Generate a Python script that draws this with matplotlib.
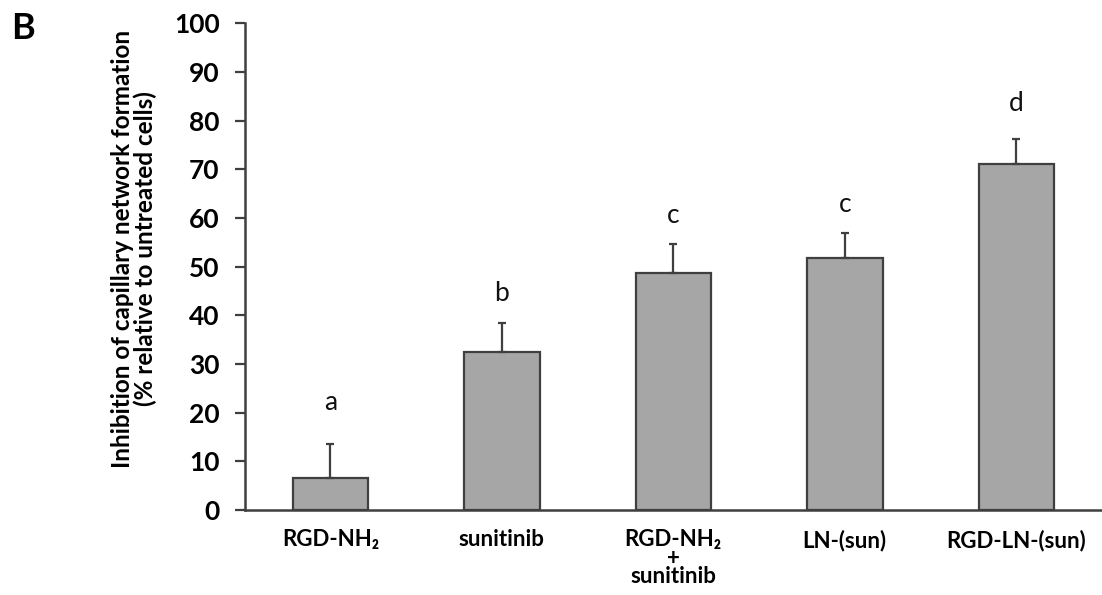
import matplotlib.pyplot as plt
import numpy as np

plt.rcParams['font.family'] = ['Lato', 'DejaVu Sans']

categories = ["RGD-NH\u2082", "sunitinib", "RGD-NH\u2082\n+\nsunitinib",
              "LN-(sun)", "RGD-LN-(sun)"]
means = [6.6, 32.4, 48.6, 51.7, 71.0]
errors = [7.0, 6.0, 6.0, 5.2, 5.2]
letters = ["a", "b", "c", "c", "d"]
letter_y = [22.0, 44.5, 60.5, 62.8, 83.5]

edge = "#3f3f3f"

fig = plt.figure(figsize=(11.02, 5.95), dpi=100)
ax = fig.add_axes([0.222, 0.143, 0.778, 0.818])

x = np.arange(len(categories))
ax.bar(x, means, width=0.44, color="#a6a6a6", edgecolor=edge, linewidth=1.6,
       zorder=2)
ax.errorbar(x, means, yerr=[np.zeros(len(errors)), errors], fmt='none',
            ecolor=edge, elinewidth=1.6, capsize=3, capthick=1.6, zorder=3)
for xi, lab, ly in zip(x, letters, letter_y):
    ax.text(xi, ly, lab, ha='center', va='center', fontsize=19, color="#111111")

ax.set_xlim(-0.5, 4.5)
ax.set_ylim(0, 100)
ax.set_yticks(range(0, 101, 10))
ax.set_xticks(x)
ax.set_xticklabels(categories, fontsize=16, fontweight='bold',
                   linespacing=0.85, va='top')
ax.tick_params(axis='x', length=0, pad=14)
ax.tick_params(axis='y', length=7, width=1.6, color=edge, labelsize=19, pad=11)
for lbl in ax.get_yticklabels():
    lbl.set_fontweight('bold')

for s in ['top', 'right']:
    ax.spines[s].set_visible(False)
for s in ['left', 'bottom']:
    ax.spines[s].set_color(edge)
    ax.spines[s].set_linewidth(1.8)

ax.set_ylabel("Inhibition of capillary network formation\n"
              "(% relative to untreated cells)", fontsize=17.5,
              fontweight='bold', linespacing=1.0)
ax.yaxis.set_label_coords(-0.102, 0.536)

fig.text(0.010, 0.952, "B", fontsize=26, fontweight='bold', va='center')

fig.savefig("out.png", dpi=100)
